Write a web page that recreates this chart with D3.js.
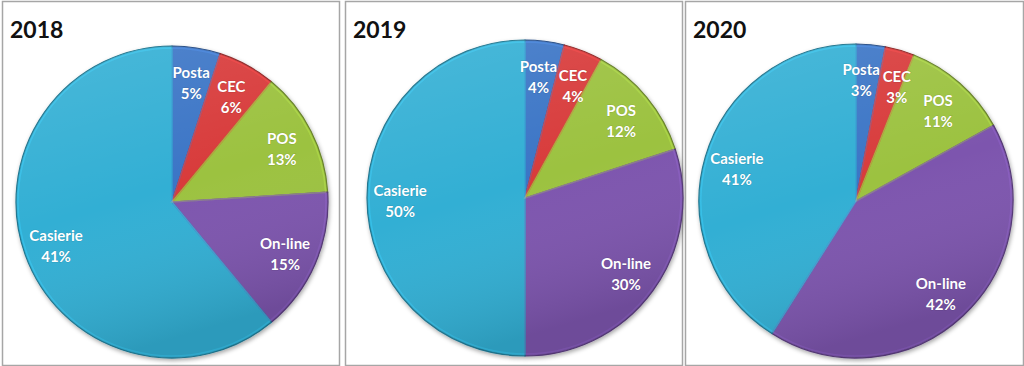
<!DOCTYPE html>
<html>
<head>
<meta charset="utf-8">
<script src="https://cdn.jsdelivr.net/npm/d3@7"></script>
<style>
  html, body { margin: 0; padding: 0; background: #fff; }
  svg { display: block; }
</style>
</head>
<body>
<svg id="chart" width="1024" height="366"></svg>
<script>
// ---- data ----
const years = ["2018", "2019", "2020"];
const categories = ["Posta", "CEC", "POS", "On-line", "Casierie"];
// slice sizes as drawn in the picture (%)
const values2018 = [5, 6, 13, 15, 61];
const values2019 = [4, 4, 12, 30, 50];
const values2020 = [3, 3, 11, 42, 41];
// label texts as printed in the picture
const labels2018 = ["5%", "6%", "13%", "15%", "41%"];
const labels2019 = ["4%", "4%", "12%", "30%", "50%"];
const labels2020 = ["3%", "3%", "11%", "42%", "41%"];
const colors = ["#3b74c6", "#d83a3a", "#9cc23f", "#7d55ae", "#30afd4"];

// ---- layout ----
const svg = d3.select("#chart");
const layout = [
  { x: 2,   y: 1, w: 337, h: 364, cx: 172, cy: 202, r: 156 },
  { x: 345, y: 1, w: 337, h: 364, cx: 525, cy: 198, r: 158 },
  { x: 685, y: 1, w: 338, h: 364, cx: 856, cy: 201, r: 157 }
];
const allValues = [values2018, values2019, values2020];
const allLabels = [labels2018, labels2019, labels2020];

const defs = svg.append("defs");
const shadow = defs.append("filter").attr("id", "shadow")
  .attr("x", "-10%").attr("y", "-10%").attr("width", "120%").attr("height", "120%");
shadow.append("feDropShadow").attr("dx", 1).attr("dy", 2).attr("stdDeviation", 2)
  .attr("flood-color", "#000").attr("flood-opacity", 0.35);

const shade = defs.append("linearGradient").attr("id", "shade")
  .attr("x1", 0).attr("y1", 0).attr("x2", 0.3).attr("y2", 1);
shade.append("stop").attr("offset", "0%").attr("stop-color", "#fff").attr("stop-opacity", 0.12);
shade.append("stop").attr("offset", "55%").attr("stop-color", "#fff").attr("stop-opacity", 0);
shade.append("stop").attr("offset", "100%").attr("stop-color", "#000").attr("stop-opacity", 0.12);

const color = d3.scaleOrdinal().domain(categories).range(colors);
const pie = d3.pie().sort(null).value(d => d.value);

function overlaps(a, b, pad) {
  return !(a.x + a.width + pad <= b.x || b.x + b.width + pad <= a.x ||
           a.y + a.height + pad <= b.y || b.y + b.height + pad <= a.y);
}

years.forEach((year, i) => {
  const L = layout[i];
  const g = svg.append("g");
  g.append("rect")
    .attr("x", L.x + 0.5).attr("y", L.y + 0.5)
    .attr("width", L.w).attr("height", L.h)
    .attr("fill", "#fff").attr("stroke", "#a6a6a6").attr("stroke-width", 1.5);

  g.append("text")
    .attr("x", L.x + 8).attr("y", L.y + 37)
    .attr("font-family", "Lato, 'Open Sans', sans-serif")
    .attr("font-weight", "bold").attr("font-size", 23)
    .attr("fill", "#111")
    .text(year);

  const data = categories.map((c, k) => ({ cat: c, value: allValues[i][k], label: allLabels[i][k] }));
  const arcs = pie(data);
  const arc = d3.arc().innerRadius(0).outerRadius(L.r);
  const bevel = d3.arc().innerRadius(0).outerRadius(L.r - 2);
  const lr = L.r * 0.79;

  const pg = g.append("g").attr("transform", `translate(${L.cx},${L.cy})`);
  const sg = pg.append("g").attr("filter", "url(#shadow)");
  sg.selectAll("path.slice").data(arcs).join("path")
    .attr("class", "slice")
    .attr("d", arc)
    .attr("fill", d => color(d.data.cat))
    .attr("stroke", d => d3.color(color(d.data.cat)).darker(1.1))
    .attr("stroke-width", 1.2)
    .attr("stroke-linejoin", "round");
  pg.selectAll("path.rim").data(arcs).join("path")
    .attr("class", "rim")
    .attr("d", bevel)
    .attr("fill", "none")
    .attr("stroke", d => d3.color(color(d.data.cat)).brighter(0.5))
    .attr("stroke-opacity", 0.45)
    .attr("stroke-width", 1.5);
  pg.append("circle").attr("r", L.r).attr("fill", "url(#shade)").attr("pointer-events", "none");

  // label angles start at slice mid-angle; nudged apart if they collide
  arcs.forEach(d => { d.la = (d.startAngle + d.endAngle) / 2; });
  const pos = d => [Math.sin(d.la) * lr, -Math.cos(d.la) * lr];

  const lg = pg.selectAll("text.lbl").data(arcs).join("text")
    .attr("class", "lbl")
    .attr("text-anchor", "middle")
    .attr("font-family", "Lato, 'Open Sans', sans-serif")
    .attr("font-weight", "bold").attr("font-size", 15)
    .attr("fill", "#fff")
    .style("paint-order", "stroke")
    .attr("stroke", "rgba(0,0,0,0.12)").attr("stroke-width", 1.2);
  lg.append("tspan").attr("x", 0).attr("dy", "-0.15em").text(d => d.data.cat);
  lg.append("tspan").attr("x", 0).attr("dy", "1.4em").text(d => d.data.label);

  const place = () => lg.attr("transform", d => `translate(${pos(d)[0]},${pos(d)[1]})`);
  place();
  const nodes = lg.nodes();
  const step = Math.PI / 360;
  for (let it = 0; it < 80; it++) {
    let moved = false;
    for (let k = 0; k < nodes.length - 1; k++) {
      const a = nodes[k].getBBox(), b = nodes[k + 1].getBBox();
      const pa = pos(arcs[k]), pb = pos(arcs[k + 1]);
      const ba = { x: a.x + pa[0], y: a.y + pa[1], width: a.width, height: a.height - 6 };
      const bb = { x: b.x + pb[0], y: b.y + pb[1], width: b.width, height: b.height - 6 };
      if (overlaps(ba, bb, 1)) {
        arcs[k].la -= step;
        arcs[k + 1].la += step;
        moved = true;
      }
    }
    if (!moved) break;
  }
  place();
});
</script>
</body>
</html>
